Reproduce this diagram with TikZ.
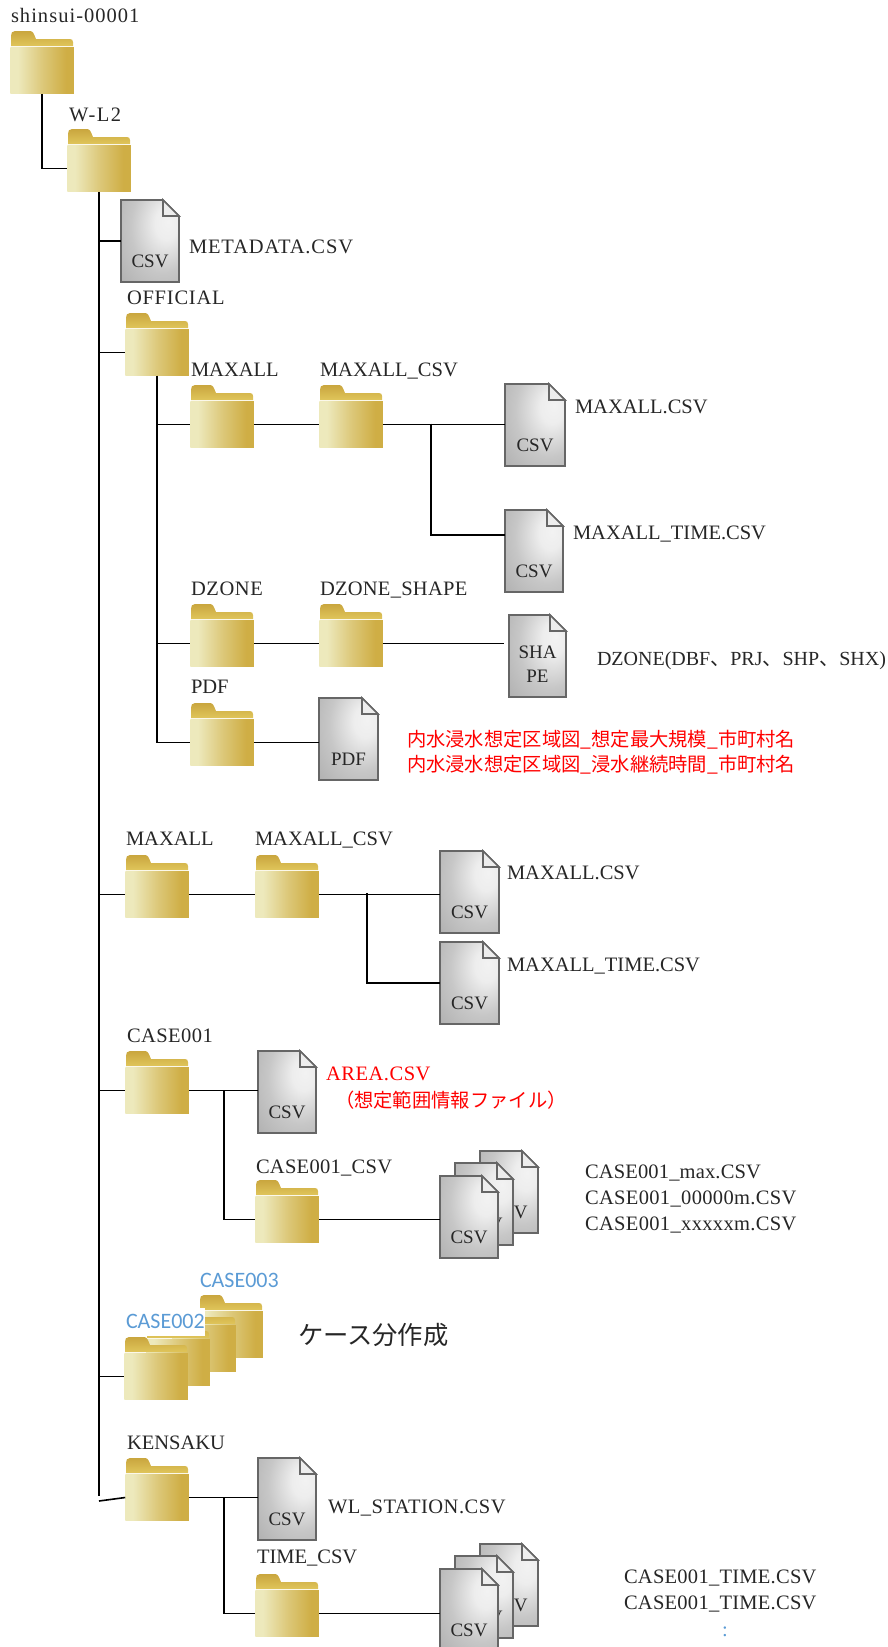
\documentclass[tikz,border=0pt]{standalone}
\usepackage{fontspec}
\setmainfont{Liberation Serif}
\newfontfamily\jpf{Noto Sans CJK JP}
\newfontfamily\blf{Carlito}
\usetikzlibrary{calc}
\definecolor{fdl}{HTML}{EDE9BC}
\definecolor{fdr}{HTML}{CFAE45}
\definecolor{fdt}{HTML}{C9A63E}
\definecolor{fdb}{HTML}{E0C55B}
\definecolor{txt}{HTML}{262626}
\definecolor{blu}{HTML}{5B9BD5}
\definecolor{dcl}{HTML}{666666}
\pgfdeclareradialshading{docshade}{\pgfpoint{16bp}{12bp}}{rgb(0bp)=(.95,.95,.95);rgb(10bp)=(.93,.93,.93);rgb(28bp)=(.78,.78,.78);rgb(45bp)=(.70,.70,.70);rgb(100bp)=(.70,.70,.70)}
\pgfdeclarehorizontalshading{fbsh}{100bp}{color(0bp)=(fdl);color(31bp)=(fdl);color(50bp)=(fdl!45!fdr);color(69bp)=(fdr);color(100bp)=(fdr)}
\tikzset{
  x=1pt,y=-1pt,
  fbody/.style={inner sep=0pt,outer sep=0pt,minimum width=63.5pt,minimum height=46.5pt,shading=fbsh,draw=none},
  ftab/.style={top color=fdt,bottom color=fdb,draw=none},
  dbox/.style={inner sep=0pt,outer sep=0pt,draw=none},
  dpaper/.style={draw=dcl,line width=1.6pt,shading=docshade,line join=miter},
  dfold/.style={draw=dcl,line width=1.6pt,fill=white!93!black,line join=miter},
  lbl/.style={anchor=west,inner sep=0pt,outer sep=0pt,text=txt,text height=14pt,text depth=.5pt,font=\fontsize{20.5}{22}\selectfont},
  ls/.style={font=\fontsize{20.5}{22}\selectfont\addfontfeature{LetterSpace=#1}},
  jl/.style={lbl,font=\jpf\fontsize{19.3}{22}\selectfont},
  rd/.style={text=red},
  dtxt/.style={inner sep=0pt,outer sep=0pt,text=txt,font=\fontsize{19}{24.5}\selectfont,align=center},
  cbl/.style={lbl,text=blu,font=\blf\fontsize{22}{22}\selectfont},
  conn/.style={draw=black,line width=1.6pt,line join=miter},
}
% \fldr{name}{left x}{top y}
\newcommand{\fldr}[3]{%
  \begin{scope}[shift={(#2,#3)}]
    \path[ftab] (1,15) -- (1,5) .. controls (1,2) and (2,0) .. (5,0) -- (20,0) .. controls (23,0) and (24,3) .. (26,8) -- (60,8) .. controls (62,8) and (63,9) .. (63,11) -- (63,15) -- cycle;
    \node[fbody] (#1) at (32,39.5) {};
  \end{scope}}
% \dcmt{name}{left x}{top y}{width}{text y offset}{text}
\newcommand{\dcmt}[6]{%
  \begin{scope}[shift={(#2,#3)}]
    \path[dpaper] (0,0) -- ({#4-16},0) -- (#4,16) -- (#4,82) -- (0,82) -- cycle;
    \path[dfold] ({#4-16},0) -- ({#4-16},16) -- (#4,16) -- cycle;
    \node[dbox,minimum width=#4 pt,minimum height=82pt] (#1) at ({#4/2},41) {};
    \node[dtxt] (#1-t) at ({#4/2},#5) {#6};
  \end{scope}}
\begin{document}
\begin{tikzpicture}
\useasboundingbox (0,0) rectangle (887,1647);
% folders
\fldr{root}{10}{31}
\fldr{wl}{67}{129}
\fldr{off}{125}{313}
\fldr{omax}{190}{385}
\fldr{omaxc}{319}{385}
\fldr{dz}{190}{604}
\fldr{dzs}{319}{604}
\fldr{pdf}{190}{703}
\fldr{max}{125}{855}
\fldr{maxc}{255}{855}
\fldr{cone}{125}{1051}
\fldr{conec}{255}{1180}
\fldr{ken}{125}{1458}
\fldr{timec}{255}{1574}
% stacked case folders
\fldr{cd}{199}{1295}
\fldr{cc}{172}{1309}
\fldr{cb}{146}{1323}
\fldr{ca}{124}{1337}
% documents
\dcmt{meta}{121}{200}{58}{61}{CSV}
\dcmt{dmax}{505}{384}{60}{61}{CSV}
\dcmt{dtime}{505}{510}{58}{61}{CSV}
\dcmt{dshp}{509}{615}{57}{49}{SHA\\PE}
\dcmt{dpdf}{319}{698}{59}{61}{PDF}
\dcmt{d2max}{440}{851}{59}{61}{CSV}
\dcmt{d2time}{440}{942}{59}{61}{CSV}
\dcmt{area}{258}{1051}{58}{61}{CSV}
\dcmt{s1c}{480}{1151}{58}{61}{CSV}
\dcmt{s1b}{455}{1163}{58}{61}{CSV}
\dcmt{s1a}{440}{1176}{58}{61}{CSV}
\dcmt{ws}{258}{1458}{58}{61}{CSV}
\dcmt{s2c}{480}{1544}{58}{61}{CSV}
\dcmt{s2b}{455}{1556}{58}{61}{CSV}
\dcmt{s2a}{440}{1569}{58}{61}{CSV}
% connectors
\coordinate (trunkend) at (99,1496);
\coordinate (kenin) at (99,1501);
\coordinate (timein) at (505,535);
\coordinate (shpin) at (504,642);
\draw[conn] (root.south) |- (wl.west);
\draw[conn] (wl.south) -- (trunkend);
\draw[conn] (wl.south |- meta.west) -- (meta.west);
\draw[conn] (wl.south |- off.west) -- (off.west);
\draw[conn] (wl.south |- max.west) -- (max.west);
\draw[conn] (wl.south |- cone.west) -- (cone.west);
\draw[conn] (wl.south |- ca.west) -- (ca.west);
\draw[conn] (kenin) -- (ken.west);
\draw[conn] (off.south) |- (omax.west);
\draw[conn] (off.south) |- (dz.west);
\draw[conn] (off.south) |- (pdf.west);
\draw[conn] (omax.east) -- (omaxc.west);
\draw[conn] (omaxc.east) -- (omaxc.east -| dmax.west);
\coordinate (b1) at (431,423.5);
\draw[conn] (b1) |- (timein);
\draw[conn] (dz.east) -- (dzs.west);
\draw[conn] (dzs.east) -- (dzs.east -| shpin);
\draw[conn] (pdf.east) -- (pdf.east -| dpdf.west);
\draw[conn] (max.east) -- (maxc.west);
\draw[conn] (maxc.east) -- (maxc.east -| d2max.west);
\coordinate (b2) at (367,893);
\draw[conn] (b2) |- (d2time.west);
\draw[conn] (cone.east) -- (cone.east -| area.west);
\coordinate (b3) at (224,1090);
\draw[conn] (b3) |- (conec.west);
\draw[conn] (conec.east) -- (conec.east -| s1a.west);
\draw[conn] (ken.east) -- (ken.east -| ws.west);
\coordinate (b4) at (224,1497);
\draw[conn] (b4) |- (timec.west);
\draw[conn] (timec.east) -- (timec.east -| s2a.west);
% labels
\node[lbl,ls=5] (l1) at (11,16) {shinsui-00001};
\node[lbl,ls=7] (l2) at (69,115) {W-L2};
\node[lbl,ls=4.3] (l3) at (189,247) {METADATA.CSV};
\node[lbl,ls=3.8] (l4) at (127,298) {OFFICIAL};
\node[lbl] (l5) at (191,370) {MAXALL};
\node[lbl] (l6) at (320,370) {MAXALL\_CSV};
\node[lbl] (l7) at (575,407) {MAXALL.CSV};
\node[lbl] (l8) at (573,533) {MAXALL\_TIME.CSV};
\node[lbl,ls=3] (l9) at (191,589) {DZONE};
\node[lbl,ls=1.3] (l10) at (320,589) {DZONE\_SHAPE};
\node[lbl,font=\fontsize{20}{22}\selectfont] (l11) at (597,659) {DZONE(DBF{\jpf 、}PRJ{\jpf 、}SHP{\jpf 、}SHX)};
\node[lbl] (l12) at (191,687) {PDF};
\node[jl,rd] (l13) at (407,740) {内水浸水想定区域図\_想定最大規模\_市町村名};
\node[jl,rd] (l14) at (407,765) {内水浸水想定区域図\_浸水継続時間\_市町村名};
\node[lbl] (l15) at (126,839) {MAXALL};
\node[lbl] (l16) at (255,839) {MAXALL\_CSV};
\node[lbl] (l17) at (507,873) {MAXALL.CSV};
\node[lbl] (l18) at (507,965) {MAXALL\_TIME.CSV};
\node[lbl,ls=2.2] (l19) at (127,1036) {CASE001};
\node[lbl,rd,ls=2.6] (l20) at (326,1074) {AREA.CSV};
\node[jl,rd] (l21) at (335,1101) {（想定範囲情報ファイル）};
\node[lbl,ls=1.4] (l22) at (256,1167) {CASE001\_CSV};
\node[lbl,ls=0.8] (l23) at (585,1172) {CASE001\_max.CSV};
\node[lbl,ls=1.7] (l24) at (585,1198) {CASE001\_00000m.CSV};
\node[lbl,ls=1.7] (l25) at (585,1224) {CASE001\_xxxxxm.CSV};
\node[cbl] (l26) at (200,1281) {CASE003};
\node[cbl,fill=white,inner ysep=6.5pt] (l27) at (126,1322) {CASE002};
\node[jl,font=\jpf\fontsize{25.3}{28}\selectfont] (l28) at (298,1338) {ケース分作成};
\node[lbl] (l29) at (127,1443) {KENSAKU};
\node[lbl,ls=2.5] (l30) at (328,1507) {WL\_STATION.CSV};
\node[lbl] (l31) at (257,1557) {TIME\_CSV};
\node[lbl,ls=1.3] (l32) at (624,1577) {CASE001\_TIME.CSV};
\node[lbl,ls=1.3] (l33) at (624,1603) {CASE001\_TIME.CSV};
\node[lbl,text=blu] (l34) at (722,1630) {:};
\end{tikzpicture}
\end{document}
